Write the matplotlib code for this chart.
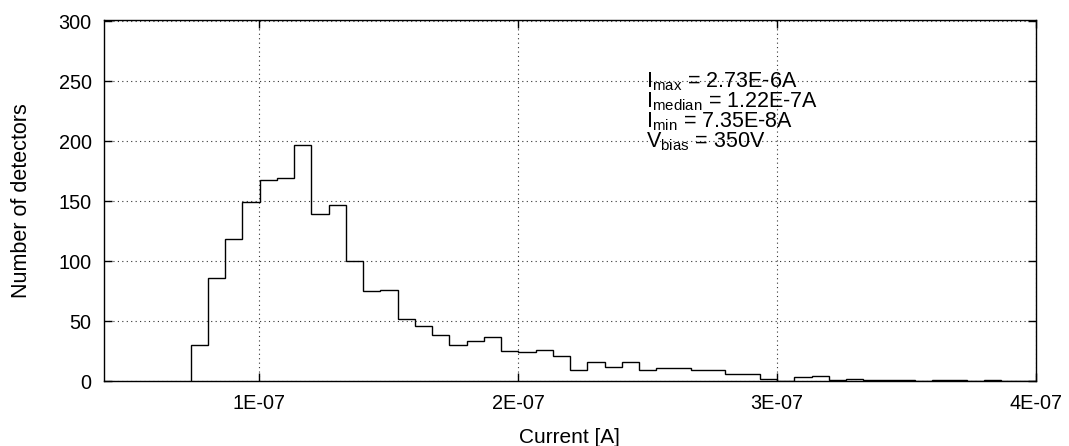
import numpy as np
import matplotlib
matplotlib.use('Agg')
import matplotlib.pyplot as plt

plt.rcParams['font.family'] = ['Liberation Sans', 'DejaVu Sans']
plt.rcParams['mathtext.default'] = 'regular'

# histogram of leakage currents (49 bins from I_min up to 4E-07 A)
i_lo = 7.35e-8
i_hi = 4.0e-7
counts = [30, 86, 118, 149, 168, 169, 197, 139, 147, 100,
          75, 76, 52, 46, 38, 30, 33, 37, 25, 24,
          26, 21, 9, 16, 12, 16, 9, 11, 11, 9,
          9, 6, 6, 2, 0, 3, 4, 1, 2, 1,
          1, 1, 0, 1, 1, 0, 1, 0, 0]
edges = np.linspace(i_lo, i_hi, len(counts) + 1)

xtick_pos = [1e-7, 2e-7, 3e-7, 4e-7]
xtick_labels = ['1E-07', '2E-07', '3E-07', '4E-07']
ytick_pos = [0, 50, 100, 150, 200, 250, 300]

stats_lines = [
    r'I$_{max}$ = 2.73E-6A',
    r'I$_{median}$ = 1.22E-7A',
    r'I$_{min}$ = 7.35E-8A',
    r'V$_{bias}$ = 350V',
]

fig = plt.figure(figsize=(10.69, 4.46), dpi=100)
ax = fig.add_axes([0.0973, 0.1457, 0.8717, 0.8094])

ax.stairs(counts, edges, color='black', linewidth=1.0, baseline=0)

ax.set_xlim(4e-8, 4e-7)
ax.set_ylim(0, 301)
ax.set_xticks(xtick_pos)
ax.set_xticklabels(xtick_labels)
ax.set_yticks(ytick_pos)
ax.tick_params(direction='in', top=True, right=True, length=6, width=1,
               labelsize=14.3, pad=9)
ax.grid(True, color='black', linestyle=(0, (1, 3)), linewidth=0.8, alpha=0.8)
for s in ax.spines.values():
    s.set_linewidth(1.0)

ax.set_xlabel('Current [A]', fontsize=15, labelpad=11)
ax.set_ylabel('Number of detectors', fontsize=15.5, labelpad=19)

y0 = 0.8125
for k, line in enumerate(stats_lines):
    ax.text(0.582, y0 - k * 0.0554, line, transform=ax.transAxes,
            fontsize=15.5, va='baseline', ha='left')

fig.savefig('out.png', dpi=100)
